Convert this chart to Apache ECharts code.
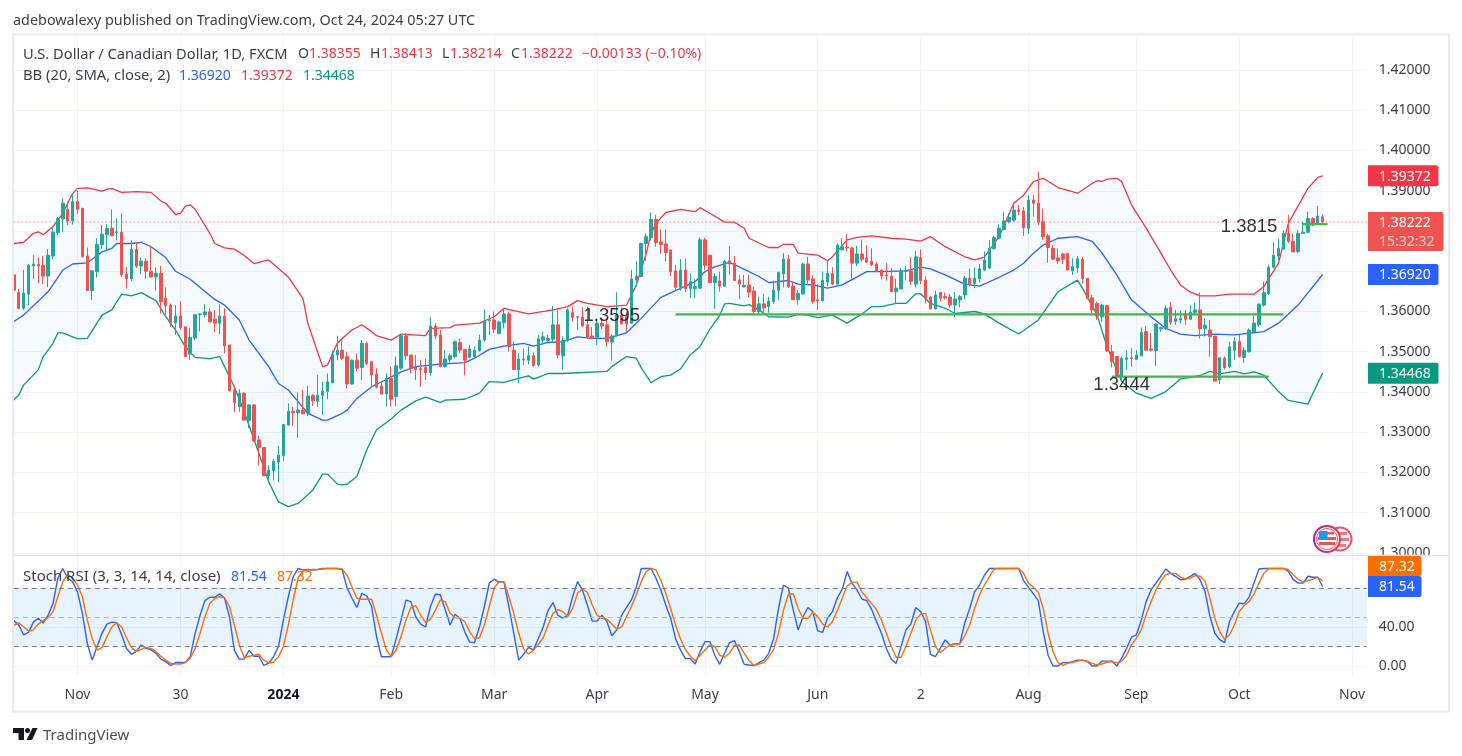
<!DOCTYPE html>
<html>
<head>
<meta charset="utf-8">
<title>USDCAD 1D</title>
<style>
html,body{margin:0;padding:0;background:#fff;}
#main{width:1462px;height:756px;}
</style>
<script src="https://cdn.jsdelivr.net/npm/echarts@6/dist/echarts.min.js"></script>
</head>
<body>
<div id="main"></div>
<script>
// daily candles, one row per bar: open, close, low, high
var candles = [
[1.3691,1.3653,1.3637,1.3695],[1.3648,1.3608,1.3605,1.3656],[1.3608,1.3646,1.3604,1.3703],[1.3643,1.3715,1.3616,1.3718],[1.3713,1.3718,1.3681,1.3740],
[1.3717,1.3713,1.3670,1.3734],[1.3715,1.3688,1.3668,1.3738],[1.3688,1.3740,1.3661,1.3755],[1.3738,1.3797,1.3730,1.3811],[1.3796,1.3831,1.3790,1.3835],
[1.3830,1.3869,1.3798,1.3881],[1.3854,1.3825,1.3815,1.3873],[1.3825,1.3873,1.3816,1.3892],[1.3874,1.3854,1.3842,1.3900],[1.3856,1.3736,1.3734,1.3858],
[1.3738,1.3652,1.3651,1.3759],[1.3652,1.3701,1.3628,1.3703],[1.3699,1.3767,1.3684,1.3782],[1.3766,1.3792,1.3756,1.3815],[1.3791,1.3806,1.3750,1.3817],
[1.3807,1.3788,1.3787,1.3854],[1.3796,1.3798,1.3777,1.3831],[1.3797,1.3691,1.3686,1.3844],[1.3693,1.3681,1.3657,1.3710],[1.3681,1.3755,1.3676,1.3777],
[1.3754,1.3713,1.3708,1.3772],[1.3713,1.3725,1.3693,1.3734],[1.3725,1.3700,1.3681,1.3732],[1.3700,1.3686,1.3685,1.3763],[1.3686,1.3695,1.3652,1.3710],
[1.3695,1.3624,1.3595,1.3713],[1.3633,1.3614,1.3591,1.3660],[1.3616,1.3572,1.3562,1.3620],[1.3572,1.3589,1.3542,1.3616],[1.3589,1.3560,1.3554,1.3626],
[1.3562,1.3488,1.3488,1.3562],[1.3494,1.3536,1.3479,1.3560],[1.3534,1.3592,1.3529,1.3594],[1.3592,1.3594,1.3550,1.3595],[1.3592,1.3599,1.3585,1.3618],
[1.3599,1.3574,1.3574,1.3608],[1.3581,1.3571,1.3549,1.3604],[1.3571,1.3589,1.3544,1.3618],[1.3589,1.3515,1.3496,1.3608],[1.3517,1.3403,1.3401,1.3517],
[1.3405,1.3373,1.3350,1.3415],[1.3363,1.3397,1.3351,1.3407],[1.3397,1.3330,1.3330,1.3399],[1.3330,1.3368,1.3310,1.3369],[1.3368,1.3279,1.3276,1.3369],
[1.3281,1.3262,1.3218,1.3291],[1.3262,1.3192,1.3191,1.3262],[1.3192,1.3206,1.3181,1.3218],[1.3204,1.3228,1.3180,1.3233],[1.3226,1.3243,1.3176,1.3266],
[1.3242,1.3319,1.3229,1.3320],[1.3318,1.3352,1.3316,1.3372],[1.3352,1.3348,1.3316,1.3363],[1.3348,1.3355,1.3286,1.3399],[1.3355,1.3346,1.3345,1.3405],
[1.3347,1.3390,1.3340,1.3415],[1.3391,1.3378,1.3365,1.3395],[1.3377,1.3392,1.3363,1.3442],[1.3391,1.3402,1.3343,1.3425],[1.3401,1.3425,1.3382,1.3446],
[1.3423,1.3494,1.3422,1.3503],[1.3492,1.3504,1.3479,1.3540],[1.3504,1.3484,1.3479,1.3531],[1.3488,1.3420,1.3409,1.3500],[1.3420,1.3479,1.3418,1.3481],
[1.3479,1.3459,1.3451,1.3496],[1.3461,1.3521,1.3430,1.3529],[1.3521,1.3471,1.3467,1.3525],[1.3475,1.3442,1.3413,1.3476],[1.3445,1.3412,1.3409,1.3459],
[1.3415,1.3395,1.3395,1.3428],[1.3395,1.3434,1.3364,1.3446],[1.3434,1.3382,1.3364,1.3463],[1.3389,1.3465,1.3365,1.3488],[1.3459,1.3540,1.3455,1.3544],
[1.3539,1.3490,1.3479,1.3546],[1.3492,1.3459,1.3446,1.3492],[1.3461,1.3455,1.3430,1.3492],[1.3458,1.3455,1.3413,1.3479],[1.3461,1.3448,1.3430,1.3484],
[1.3448,1.3564,1.3440,1.3587],[1.3564,1.3539,1.3532,1.3571],[1.3542,1.3463,1.3463,1.3554],[1.3463,1.3482,1.3461,1.3504],[1.3481,1.3490,1.3471,1.3496],
[1.3488,1.3525,1.3484,1.3528],[1.3523,1.3504,1.3496,1.3533],[1.3506,1.3479,1.3441,1.3506],[1.3486,1.3507,1.3484,1.3517],[1.3488,1.3504,1.3485,1.3513],
[1.3503,1.3529,1.3500,1.3542],[1.3529,1.3577,1.3525,1.3605],[1.3577,1.3579,1.3542,1.3591],[1.3579,1.3556,1.3546,1.3600],[1.3545,1.3574,1.3544,1.3577],
[1.3572,1.3594,1.3558,1.3605],[1.3594,1.3513,1.3500,1.3600],[1.3504,1.3456,1.3455,1.3525],[1.3455,1.3482,1.3422,1.3496],[1.3480,1.3482,1.3467,1.3508],
[1.3479,1.3490,1.3469,1.3513],[1.3490,1.3466,1.3463,1.3499],[1.3467,1.3532,1.3463,1.3542],[1.3529,1.3537,1.3521,1.3550],[1.3528,1.3533,1.3521,1.3542],
[1.3531,1.3567,1.3525,1.3614],[1.3567,1.3492,1.3484,1.3604],[1.3490,1.3528,1.3455,1.3538],[1.3527,1.3604,1.3525,1.3608],[1.3597,1.3585,1.3575,1.3612],
[1.3587,1.3586,1.3554,1.3589],[1.3586,1.3564,1.3562,1.3610],[1.3567,1.3536,1.3533,1.3612],[1.3539,1.3533,1.3531,1.3562],[1.3536,1.3571,1.3517,1.3583],
[1.3571,1.3564,1.3556,1.3579],[1.3567,1.3525,1.3513,1.3583],[1.3524,1.3539,1.3478,1.3544],[1.3542,1.3591,1.3538,1.3648],[1.3591,1.3569,1.3569,1.3610],
[1.3587,1.3569,1.3550,1.3600],[1.3571,1.3681,1.3569,1.3703],[1.3678,1.3688,1.3662,1.3726],[1.3687,1.3769,1.3685,1.3771],[1.3769,1.3786,1.3726,1.3792],
[1.3784,1.3829,1.3776,1.3846],[1.3829,1.3771,1.3761,1.3840],[1.3773,1.3766,1.3743,1.3804],[1.3768,1.3746,1.3724,1.3804],[1.3753,1.3699,1.3688,1.3753],
[1.3701,1.3660,1.3653,1.3716],[1.3660,1.3703,1.3652,1.3730],[1.3703,1.3657,1.3649,1.3732],[1.3657,1.3674,1.3633,1.3695],[1.3657,1.3662,1.3633,1.3680],
[1.3658,1.3778,1.3657,1.3784],[1.3778,1.3715,1.3703,1.3783],[1.3740,1.3672,1.3670,1.3740],[1.3672,1.3687,1.3607,1.3695],[1.3676,1.3663,1.3649,1.3699],
[1.3663,1.3725,1.3662,1.3728],[1.3726,1.3718,1.3691,1.3763],[1.3720,1.3677,1.3677,1.3738],[1.3678,1.3668,1.3631,1.3691],[1.3661,1.3665,1.3660,1.3691],
[1.3666,1.3648,1.3635,1.3691],[1.3651,1.3600,1.3590,1.3662],[1.3600,1.3619,1.3594,1.3637],[1.3619,1.3609,1.3597,1.3644],[1.3612,1.3626,1.3597,1.3637],
[1.3625,1.3653,1.3619,1.3677],[1.3652,1.3697,1.3629,1.3699],[1.3693,1.3730,1.3660,1.3745],[1.3730,1.3662,1.3658,1.3740],[1.3663,1.3629,1.3629,1.3674],
[1.3629,1.3645,1.3617,1.3653],[1.3644,1.3718,1.3641,1.3721],[1.3718,1.3678,1.3666,1.3736],[1.3681,1.3625,1.3619,1.3691],[1.3629,1.3626,1.3604,1.3668],
[1.3627,1.3677,1.3625,1.3699],[1.3673,1.3695,1.3663,1.3724],[1.3695,1.3668,1.3666,1.3710],[1.3668,1.3765,1.3666,1.3769],[1.3753,1.3761,1.3753,1.3782],
[1.3760,1.3758,1.3749,1.3793],[1.3758,1.3720,1.3680,1.3761],[1.3720,1.3743,1.3713,1.3763],[1.3743,1.3730,1.3724,1.3779],[1.3733,1.3723,1.3721,1.3765],
[1.3725,1.3716,1.3713,1.3757],[1.3718,1.3700,1.3699,1.3724],[1.3703,1.3688,1.3680,1.3703],[1.3691,1.3689,1.3677,1.3720],[1.3688,1.3649,1.3649,1.3707],
[1.3649,1.3658,1.3620,1.3682],[1.3656,1.3701,1.3655,1.3707],[1.3700,1.3701,1.3677,1.3713],[1.3701,1.3675,1.3666,1.3735],[1.3668,1.3736,1.3660,1.3750],
[1.3735,1.3677,1.3668,1.3754],[1.3678,1.3633,1.3620,1.3687],[1.3636,1.3606,1.3606,1.3639],[1.3606,1.3641,1.3606,1.3652],[1.3647,1.3633,1.3625,1.3649],
[1.3637,1.3634,1.3630,1.3647],[1.3636,1.3616,1.3610,1.3644],[1.3616,1.3631,1.3586,1.3648],[1.3629,1.3637,1.3610,1.3641],[1.3641,1.3683,1.3630,1.3688],
[1.3683,1.3668,1.3662,1.3707],[1.3670,1.3683,1.3658,1.3710],[1.3681,1.3706,1.3672,1.3718],[1.3703,1.3728,1.3701,1.3749],[1.3708,1.3757,1.3706,1.3778],
[1.3756,1.3784,1.3754,1.3788],[1.3782,1.3807,1.3779,1.3817],[1.3804,1.3825,1.3802,1.3848],[1.3823,1.3834,1.3819,1.3844],[1.3827,1.3852,1.3823,1.3869],
[1.3852,1.3849,1.3840,1.3865],[1.3850,1.3808,1.3788,1.3860],[1.3807,1.3877,1.3793,1.3889],[1.3877,1.3869,1.3836,1.3889],[1.3869,1.3822,1.3815,1.3947],
[1.3823,1.3786,1.3778,1.3856],[1.3788,1.3759,1.3721,1.3793],[1.3757,1.3730,1.3728,1.3765],[1.3733,1.3726,1.3718,1.3757],[1.3743,1.3730,1.3718,1.3746],
[1.3744,1.3703,1.3703,1.3745],[1.3701,1.3711,1.3691,1.3732],[1.3708,1.3731,1.3696,1.3738],[1.3730,1.3682,1.3670,1.3736],[1.3682,1.3633,1.3630,1.3682],
[1.3634,1.3604,1.3591,1.3641],[1.3620,1.3589,1.3579,1.3625],[1.3587,1.3616,1.3575,1.3619],[1.3615,1.3502,1.3500,1.3615],[1.3500,1.3475,1.3461,1.3517],
[1.3488,1.3440,1.3438,1.3488],[1.3440,1.3484,1.3430,1.3488],[1.3481,1.3485,1.3455,1.3504],[1.3485,1.3483,1.3463,1.3509],[1.3481,1.3492,1.3480,1.3504],
[1.3490,1.3548,1.3488,1.3560],[1.3550,1.3504,1.3503,1.3564],[1.3507,1.3504,1.3500,1.3546],[1.3503,1.3569,1.3465,1.3571],[1.3557,1.3560,1.3550,1.3562],
[1.3558,1.3608,1.3554,1.3615],[1.3610,1.3573,1.3567,1.3624],[1.3575,1.3582,1.3567,1.3604],[1.3579,1.3583,1.3571,1.3602],[1.3595,1.3581,1.3567,1.3604],
[1.3581,1.3598,1.3579,1.3616],[1.3598,1.3604,1.3591,1.3622],[1.3604,1.3557,1.3533,1.3647],[1.3557,1.3566,1.3538,1.3583],[1.3554,1.3538,1.3488,1.3579],
[1.3539,1.3427,1.3427,1.3539],[1.3430,1.3485,1.3420,1.3486],[1.3484,1.3461,1.3456,1.3488],[1.3463,1.3512,1.3459,1.3525],[1.3504,1.3525,1.3480,1.3536],
[1.3525,1.3488,1.3486,1.3542],[1.3486,1.3503,1.3473,1.3511],[1.3500,1.3554,1.3498,1.3558],[1.3550,1.3571,1.3546,1.3589],[1.3567,1.3618,1.3562,1.3620],
[1.3616,1.3647,1.3612,1.3674],[1.3644,1.3710,1.3641,1.3716],[1.3710,1.3740,1.3707,1.3773],[1.3738,1.3757,1.3728,1.3782],[1.3755,1.3794,1.3753,1.3802],
[1.3794,1.3774,1.3771,1.3840],[1.3774,1.3748,1.3748,1.3793],[1.3749,1.3794,1.3745,1.3803],[1.3794,1.3797,1.3793,1.3823],[1.3797,1.3831,1.3796,1.3848],
[1.3831,1.3815,1.3812,1.3834],[1.3819,1.3837,1.3815,1.3862],[1.38355,1.38222,1.38214,1.38413]
];

// bollinger bands, [bar, value] at the corners of each curve
var bbUpper = [[0,1.3769],[2,1.3772],[4,1.3794],[5,1.3798],[6,1.3791],[8,1.3811],[10,1.3844],[11,1.3869],[12,1.3893],[13,1.3906],[15,1.3907],[18,1.3899],[19,1.3904],[20,1.3906],[22,1.3896],[25,1.3898],[28,1.3896],[30,1.3875],[31,1.3869],[33,1.3841],[34,1.3844],[35,1.3862],[36,1.3865],[37,1.3854],[40,1.3794],[41,1.3769],[43,1.3758],[45,1.3755],[47,1.3739],[49,1.3719],[52,1.3728],[54,1.3707],[56,1.3686],[59,1.3632],[60,1.3570],[63,1.3463],[64,1.3467],[66,1.3521],[67,1.3533],[69,1.3554],[71,1.3567],[73,1.3550],[74,1.3540],[77,1.3529],[79,1.3544],[84,1.3540],[85,1.3558],[89,1.3560],[90,1.3566],[95,1.3571],[98,1.3587],[100,1.3608],[105,1.3594],[110,1.3604],[113,1.3612],[115,1.3627],[117,1.3620],[121,1.3612],[125,1.3616],[127,1.3666],[129,1.3744],[130,1.3794],[131,1.3819],[133,1.3846],[136,1.3854],[139,1.3848],[140,1.3858],[142,1.3844],[145,1.3822],[147,1.3822],[149,1.3807],[150,1.3782],[154,1.3759],[156,1.3759],[157,1.3767],[159,1.3767],[160,1.3745],[164,1.3740],[166,1.3726],[167,1.3736],[170,1.3778],[172,1.3784],[175,1.3788],[179,1.3782],[182,1.3780],[185,1.3775],[187,1.3786],[190,1.3761],[194,1.3736],[196,1.3728],[198,1.3735],[201,1.3786],[204,1.3869],[206,1.3889],[208,1.3923],[210,1.3931],[213,1.3908],[217,1.3894],[220,1.3918],[221,1.3925],[222,1.3923],[223,1.3929],[225,1.3931],[226,1.3923],[228,1.3865],[231,1.3807],[234,1.3745],[236,1.3703],[238,1.3666],[240,1.3648],[242,1.3639],[245,1.3639],[248,1.3643],[253,1.3643],[255,1.3662],[258,1.3720],[260,1.3819],[264,1.3906],[266,1.3933],[267,1.39372]];
var bbBasis = [[0,1.3575],[2,1.3591],[7,1.3649],[10,1.3703],[12,1.3718],[15,1.3721],[18,1.3748],[20,1.3757],[21,1.3769],[24,1.3769],[26,1.3772],[28,1.3761],[31,1.3734],[33,1.3700],[36,1.3680],[41,1.3630],[43,1.3616],[46,1.3579],[48,1.3529],[52,1.3463],[54,1.3421],[56,1.3405],[58,1.3376],[60,1.3347],[63,1.3330],[64,1.3330],[67,1.3347],[68,1.3355],[70,1.3384],[73,1.3413],[76,1.3431],[79,1.3450],[82,1.3463],[87,1.3469],[92,1.3473],[94,1.3484],[97,1.3506],[100,1.3514],[104,1.3521],[106,1.3514],[109,1.3523],[112,1.3525],[115,1.3537],[118,1.3533],[121,1.3533],[125,1.3547],[128,1.3583],[132,1.3635],[135,1.3652],[139,1.3674],[141,1.3699],[143,1.3711],[146,1.3722],[148,1.3711],[152,1.3687],[154,1.3672],[158,1.3677],[160,1.3668],[163,1.3666],[166,1.3658],[169,1.3666],[174,1.3699],[177,1.3699],[182,1.3701],[185,1.3710],[187,1.3706],[190,1.3691],[194,1.3668],[197,1.3663],[199,1.3674],[201,1.3685],[204,1.3703],[206,1.3720],[208,1.3745],[210,1.3765],[213,1.3782],[217,1.3786],[220,1.3774],[222,1.3745],[225,1.3691],[228,1.3629],[232,1.3587],[235,1.3558],[238,1.3544],[241,1.3540],[245,1.3544],[249,1.3542],[255,1.3550],[258,1.3571],[262,1.3616],[267,1.36920]];
var bbLower = [[0,1.3380],[1,1.3392],[2,1.3417],[5,1.3455],[6,1.3488],[8,1.3521],[9,1.3547],[10,1.3547],[13,1.3532],[15,1.3533],[18,1.3591],[20,1.3604],[22,1.3643],[24,1.3639],[26,1.3647],[29,1.3627],[31,1.3587],[33,1.3554],[35,1.3512],[37,1.3486],[40,1.3483],[42,1.3488],[43,1.3463],[45,1.3413],[47,1.3351],[50,1.3248],[52,1.3177],[54,1.3127],[56,1.3115],[58,1.3123],[61,1.3156],[63,1.3196],[64,1.3196],[66,1.3171],[67,1.3169],[68,1.3171],[70,1.3190],[72,1.3256],[74,1.3306],[77,1.3333],[79,1.3355],[82,1.3378],[84,1.3387],[87,1.3374],[88,1.3380],[92,1.3382],[95,1.3397],[97,1.3426],[100,1.3424],[103,1.3434],[105,1.3440],[106,1.3432],[109,1.3446],[112,1.3446],[121,1.3451],[122,1.3463],[125,1.3488],[127,1.3484],[128,1.3460],[130,1.3423],[132,1.3438],[134,1.3442],[136,1.3457],[138,1.3492],[140,1.3513],[142,1.3556],[144,1.3590],[145,1.3619],[146,1.3620],[149,1.3614],[150,1.3617],[152,1.3604],[154,1.3587],[158,1.3586],[160,1.3593],[162,1.3591],[164,1.3585],[167,1.3591],[170,1.3571],[173,1.3594],[175,1.3612],[177,1.3612],[180,1.3620],[182,1.3620],[184,1.3644],[185,1.3644],[187,1.3620],[190,1.3608],[192,1.3595],[196,1.3600],[198,1.3594],[201,1.3571],[205,1.3544],[209,1.3579],[213,1.3649],[217,1.3678],[218,1.3658],[221,1.3591],[223,1.3513],[226,1.3426],[229,1.3397],[232,1.3384],[235,1.3401],[238,1.3432],[242,1.3441],[244,1.3451],[246,1.3445],[249,1.3451],[251,1.3445],[253,1.3450],[255,1.3442],[258,1.3401],[260,1.3379],[264,1.3370],[266,1.3422],[267,1.34468]];

// stoch rsi, one value per bar
var stochK = [
46.5,42,32,34.5,45,49,44,52,64,90,
100,90,86.5,76,54,23,6,20,33.5,43,
45,44.5,32,18,12,15,21.5,18,16.5,13,
7,4.5,0.5,3.5,3.5,3.5,9.5,33.5,52,67,
70.5,70.5,74,69.5,50.5,16,7,7,16,10,
10,0.5,3,9.5,20,47,71,91.5,100,98.5,
99,98.5,99,100,100,100,100,98.5,80,69.5,
60,74.5,72,61,30,9.5,9.5,9.5,28,47,
67.5,66,50.5,43,40,61,73.5,73,58,42,
53,49,35,24.5,24,40,61,85,89,86,
86,61,33.5,6,12,19,16.5,28,40,57,
65,52,49,52,71,86.5,78,62.5,46,46,
52,45.5,31,37,52,60,67.7,81,100,100,
100,90,78,62.5,49,28,16.5,7.5,7.5,2,
14.7,25,25,11,1.7,13,24,26,14.7,1.7,
1,0.5,3.5,6,13,28,59,83,80,57.5,
37,50.5,60,55.7,36,34.5,49,55.7,70,78.6,
96.8,84.8,78,68.7,67,58,45.5,33.5,18,7,
2.7,20,37,43,60,55.7,45.5,12,9.5,18,
26.7,21.5,22.5,23,44.4,59,76,83,93,100,
100,100,100,100,100,100,87.5,80.6,74,67,
35,11,0,0,3.4,3.4,4.5,6,6,4.5,
0,0,5,5,5,0,8,18,29.5,32,
47,66,78,85,92,99.5,95,92,88.5,89,
92,95,88.5,76.5,51,33.6,27,24,45.6,56,
64.5,64,70.7,85,99.5,100,100,100,100,100,
97,88.5,85,85,92,91,91,81.54
];
var stochD = [
41.4,44.4,40.3,36,37,43,46.5,49.6,55.7,71,
86.5,94,90,83,71,47,28,16.4,18.8,30,
40,44.4,40,29,19,15,17,19,18,14.7,
10,6,2.7,2,2,3.4,8,18,33.5,50.6,
64,69.4,71,70,61,42,21.5,9,10,11,
12,6,3.4,3.8,9.6,20,42,67.7,90,97.4,
98.5,99,99,99.5,100,100,100,99.5,93,81,
69.4,68.4,68.4,68.4,52,33.5,16.4,9.6,16.4,30,
47,60,62,52,44.4,48,57,67.7,66,54,
49.6,49,45.6,35,28,29,42,61,80,86.5,
86.5,71,54,33.5,17.4,12.3,16.4,22,29,42,
54,58,55.7,51,59,74.5,79,75.6,62.6,52,
49,48,43,38,40,50.6,61,73,86.5,96.8,
100,98.5,88,74.5,59,42,28,17,10,5.5,
11,16.4,21.5,20,11,9,13,21,21.5,13,
5.5,0.5,2,3.4,9,17,33.5,57,73.5,74,
59,49,49,55,50.6,43,40,45.6,57,69.4,
82,86,86,76,70,64,58,47,33.5,20,
9,9,20,33.5,47,53,54,37,20,13.7,
18,21.5,22.5,22.5,31,42,59,73,83,91.5,
99.5,100,100,100,100,100,95,85,80.6,75.5,
59,33.6,14.7,3.4,0.7,2.7,3.8,5,6,5,
2.7,1,2,3.8,4.5,3.4,4.5,11,21.6,28.5,
37,52.5,66,78,87,93.6,95,95,91,89.5,
90,92.6,92,87,69.6,49,35,27.4,32,42,
56,62,66,74,85,95,100,100,100,100,
99,93.6,89,86,87.5,89,91,87.32
];

// axis ticks
var barCount = 277;
var timeIndex = [13,34,55,77,98,119,141,164,185,207,229,250,273];
var timeLabels = ['Nov','30','2024','Feb','Mar','Apr','May','Jun','2','Aug','Sep','Oct','Nov'];
var priceTicks = [1.30,1.31,1.32,1.33,1.34,1.35,1.36,1.37,1.38,1.39,1.40,1.41,1.42];
var stochTicks = [0,40];

// drawn on the chart by the author
var supportLines = [
	[[135,1.3593],[259,1.3593]],
	[[224,1.3438],[256,1.3438]],
	[[263,1.3817],[268,1.3817]]
];
var chartNotes = [[122,1.3589,'1.3595'],[252,1.3810,'1.3815'],[226,1.3417,'1.3444']];

var lastClose = 1.38222;
var uiFont = '"Noto Sans", sans-serif';

var categories = [];
for (var i = 0; i < barCount; i++) {
	categories.push(String(i));
}

function isTimeTick(index) {
	return timeIndex.indexOf(index) >= 0;
}

function bbLine(name, data, color) {
	return {
		name: name, type: 'line', xAxisIndex: 0, yAxisIndex: 0, data: data, z: 2,
		symbol: 'none', silent: true, lineStyle: {color: color, width: 1.3}
	};
}

var series = [
	{
		// band between upper and lower curve
		type: 'custom', xAxisIndex: 0, yAxisIndex: 0, data: [[0, 1.36]], z: 1, silent: true,
		renderItem: function(params, api) {
			var pts = [];
			bbUpper.forEach(function(p) { pts.push(api.coord(p)); });
			bbLower.slice().reverse().forEach(function(p) { pts.push(api.coord(p)); });
			return {type: 'polygon', shape: {points: pts}, style: {fill: 'rgba(33,150,243,0.05)'}};
		}
	},
	bbLine('upper', bbUpper, '#f23645'),
	bbLine('basis', bbBasis, '#2962ff'),
	bbLine('lower', bbLower, '#089981'),
	{
		// last price line across the pane
		type: 'line', xAxisIndex: 0, yAxisIndex: 0, data: [[0, lastClose], [barCount - 1, lastClose]], z: 2,
		symbol: 'none', silent: true, lineStyle: {color: '#ef5350', type: [1, 3], width: 1}
	},
	{
		type: 'candlestick', xAxisIndex: 0, yAxisIndex: 0, data: candles, z: 3, barWidth: 3,
		itemStyle: {color: '#26a69a', color0: '#ef5350', borderColor: '#26a69a', borderColor0: '#ef5350', borderWidth: 1}
	},
	{
		type: 'scatter', xAxisIndex: 0, yAxisIndex: 0, data: chartNotes, z: 6, symbolSize: 0, silent: true,
		label: {
			show: true, position: 'inside', color: '#000000', fontSize: 18.5, fontFamily: 'Liberation Sans',
			formatter: function(p) { return p.value[2]; }
		}
	},
	{
		name: 'K', type: 'line', xAxisIndex: 1, yAxisIndex: 1, data: stochK, z: 3, symbol: 'none', silent: true,
		lineStyle: {color: '#2962ff', width: 1.4},
		markArea: {
			silent: true, animation: false, itemStyle: {color: 'rgba(33,150,243,0.11)'},
			data: [[{yAxis: 20}, {yAxis: 80}]]
		},
		markLine: {
			silent: true, symbol: 'none', label: {show: false}, animation: false,
			data: [
				{yAxis: 80, lineStyle: {color: '#787b86', type: [5, 4], width: 1}},
				{yAxis: 50, lineStyle: {color: '#b2b5be', type: [5, 4], width: 1}},
				{yAxis: 20, lineStyle: {color: '#787b86', type: [5, 4], width: 1}}
			]
		}
	},
	{
		name: 'D', type: 'line', xAxisIndex: 1, yAxisIndex: 1, data: stochD, z: 4, symbol: 'none', silent: true,
		lineStyle: {color: '#ff6d00', width: 1.4}
	}
];

supportLines.forEach(function(seg) {
	series.push({
		type: 'line', xAxisIndex: 0, yAxisIndex: 0, data: seg, z: 5, symbol: 'none', silent: true,
		lineStyle: {color: '#4caf50', width: 2.2}
	});
});

var gridColor = '#f0f3fa';
var labelColor = '#3c3f49';

function timeAxis(gridIndex, showLabel) {
	return {
		type: 'category', gridIndex: gridIndex, data: categories, boundaryGap: false,
		axisLine: {show: false}, axisTick: {show: false},
		splitLine: {show: true, lineStyle: {color: gridColor}, interval: function(index) { return isTimeTick(index); }},
		axisLabel: {
			show: showLabel, color: labelColor, fontFamily: uiFont, fontSize: 14, margin: 11, hideOverlap: false,
			interval: function(index) { return isTimeTick(index); },
			formatter: function(value, index) {
				var t = timeLabels[timeIndex.indexOf(index)];
				return t === '2024' ? '{y|2024}' : t;
			},
			rich: {y: {fontWeight: 'bold', fontSize: 14, color: '#131722', fontFamily: uiFont}}
		}
	};
}

var myChart = echarts.init(document.getElementById('main'));
myChart.setOption({
	animation: false,
	backgroundColor: '#ffffff',
	grid: [
		{left: 13.77, top: 35, width: 1353, height: 520},
		{left: 13.77, top: 556, width: 1353, height: 121}
	],
	xAxis: [timeAxis(0, false), timeAxis(1, true)],
	yAxis: [
		{
			type: 'value', gridIndex: 0, position: 'right', min: 1.2995, max: 1.4287, scale: true,
			axisLine: {show: false},
			axisTick: {show: false, customValues: priceTicks},
			splitLine: {show: true, lineStyle: {color: gridColor}},
			axisLabel: {
				customValues: priceTicks, color: labelColor, fontFamily: uiFont, fontSize: 14, margin: 12, padding: [2, 0, 0, 0],
				formatter: function(v) { return v.toFixed(5); }
			}
		},
		{
			type: 'value', gridIndex: 1, position: 'right', min: -11.3, max: 112.8,
			axisLine: {show: false},
			axisTick: {show: false, customValues: stochTicks},
			splitLine: {show: true, lineStyle: {color: gridColor}},
			axisLabel: {
				customValues: stochTicks, color: labelColor, fontFamily: uiFont, fontSize: 14, margin: 12, padding: [2, 0, 0, 0],
				formatter: function(v) { return v.toFixed(2); }
			}
		}
	],
	series: series
});

// text and decoration around the plot
function txt(x, y, text, color, size, weight) {
	return {
		type: 'text', x: x, y: y, z: 60, silent: true,
		style: {text: text, fill: color, font: (weight || 'normal') + ' ' + (size || 14) + 'px ' + uiFont, verticalAlign: 'middle'}
	};
}

function tag(y0, y1, right, color, label, sub) {
	var els = [{
		type: 'rect', z: 55, silent: true,
		shape: {x: 1368, y: y0, width: right - 1368, height: y1 - y0, r: [0, 2, 2, 0]},
		style: {fill: color}
	}];
	if (sub) {
		els.push(txt(1379, y0 + 11, label, '#ffffff'));
		els.push(txt(1379, y0 + 30, sub, 'rgba(255,255,255,0.72)'));
	} else {
		els.push(txt(1379, (y0 + y1) / 2 + 1, label, '#ffffff'));
	}
	return els;
}

function priceY(v) {
	return myChart.convertToPixel({yAxisIndex: 0}, v);
}

var red = '#f23645';
var graphics = [
	{type: 'rect', z: 50, silent: true, shape: {x: 1368, y: 556, width: 80, height: 8}, style: {fill: '#fff'}},
	{type: 'rect', z: 51, silent: true, shape: {x: 13, y: 34.5, width: 1436, height: 677}, style: {fill: 'none', stroke: '#e9ebf3', lineWidth: 2}},
	{type: 'line', z: 51, silent: true, shape: {x1: 14, y1: 555.5, x2: 1448, y2: 555.5}, style: {stroke: '#e0e3eb', lineWidth: 1.5}},

	txt(13, 20.5, 'adebowalexy published on TradingView.com, Oct 24, 2024 05:27 UTC', '#3c3f49', 14.4),
	txt(23, 54.5, 'U.S. Dollar / Canadian Dollar, 1D, FXCM', '#3c3f49', 14.65),
	txt(298, 54.5, 'O', '#3c3f49'), txt(309, 54.5, '1.38355', red),
	txt(370, 54.5, 'H', '#3c3f49'), txt(381, 54.5, '1.38413', red),
	txt(442, 54.5, 'L', '#3c3f49'), txt(450, 54.5, '1.38214', red),
	txt(511, 54.5, 'C', '#3c3f49'), txt(521, 54.5, '1.38222', red),
	txt(582, 54.5, '\u22120.00133 (\u22120.10%)', red),
	txt(23, 76, 'BB (20, SMA, close, 2)', '#3c3f49', 14.8),
	txt(179, 76, '1.36920', '#2962ff'), txt(241, 76, '1.39372', red), txt(303, 76, '1.34468', '#089981'),
	txt(23, 577, 'Stoch RSI (3, 3, 14, 14, close)', '#3c3f49', 15),
	txt(231, 577, '81.54', '#2962ff'), txt(277, 577, '87.32', '#ff6d00'),

	// logo and name at the bottom
	{type: 'polygon', z: 60, silent: true, shape: {points: [[13, 728], [24, 728], [24, 740], [18.5, 740], [18.5, 733], [13, 733]]}, style: {fill: '#131722'}},
	{type: 'circle', z: 60, silent: true, shape: {cx: 27.5, cy: 730.5, r: 2.5}, style: {fill: '#131722'}},
	{type: 'polygon', z: 60, silent: true, shape: {points: [[32.5, 728], [37.5, 728], [32, 740], [26.5, 740]]}, style: {fill: '#131722'}},
	txt(43, 736, 'TradingView', '#4a4d57', 15),

	// country badge
	{type: 'circle', z: 40, silent: true, shape: {cx: 1340, cy: 539, r: 11.5}, style: {fill: '#fff', stroke: '#ef5369', lineWidth: 2}},
	{type: 'rect', z: 41, silent: true, shape: {x: 1336, y: 532, width: 11, height: 3}, style: {fill: '#f47a85'}},
	{type: 'rect', z: 41, silent: true, shape: {x: 1336, y: 538, width: 13, height: 3}, style: {fill: '#f47a85'}},
	{type: 'rect', z: 41, silent: true, shape: {x: 1336, y: 544, width: 10, height: 3}, style: {fill: '#f47a85'}},
	{
		type: 'circle', z: 42, silent: true, shape: {cx: 1327, cy: 539, r: 13},
		style: {fill: '#fff', stroke: {type: 'linear', x: 0, y: 0, x2: 1, y2: 0, colorStops: [{offset: 0, color: '#9c27b0'}, {offset: 1, color: '#f23645'}]}, lineWidth: 2}
	},
	{type: 'circle', z: 43, silent: true, shape: {cx: 1327, cy: 539, r: 10.5}, style: {fill: '#fff', stroke: '#f0566d', lineWidth: 1}},
	{type: 'rect', z: 44, silent: true, shape: {x: 1320, y: 532, width: 14, height: 2.5}, style: {fill: '#ef5350'}},
	{type: 'rect', z: 44, silent: true, shape: {x: 1318, y: 537, width: 18, height: 3}, style: {fill: '#ef5350'}},
	{type: 'rect', z: 44, silent: true, shape: {x: 1319, y: 542, width: 16, height: 3}, style: {fill: '#ef5350'}},
	{type: 'rect', z: 45, silent: true, shape: {x: 1319, y: 531, width: 8.5, height: 8}, style: {fill: '#2196f3'}}
];

graphics = graphics
	.concat(tag(priceY(1.39372) - 10.5, priceY(1.39372) + 10.5, 1438.5, red, '1.39372'))
	.concat(tag(priceY(lastClose) - 10, priceY(lastClose) + 29, 1443.5, '#ef5350', '1.38222', '15:32:32'))
	.concat(tag(priceY(1.36920) - 10.5, priceY(1.36920) + 10.5, 1438.5, '#2962ff', '1.36920'))
	.concat(tag(priceY(1.34468) - 10.5, priceY(1.34468) + 10.5, 1438.5, '#089981', '1.34468'))
	.concat(tag(556, 576, 1421.5, '#ff6d00', '87.32'))
	.concat(tag(576, 597, 1421.5, '#2962ff', '81.54'));

myChart.setOption({graphic: {elements: graphics}});
</script>
</body>
</html>
